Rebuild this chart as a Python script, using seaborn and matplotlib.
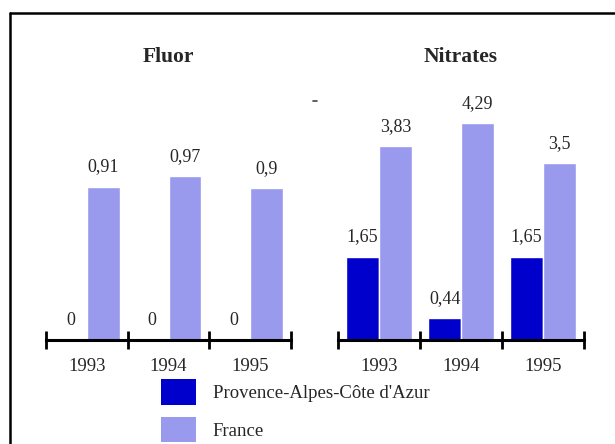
import pandas as pd
import matplotlib
matplotlib.use("Agg")
import matplotlib.pyplot as plt
import seaborn as sns
from matplotlib.patches import Patch
from matplotlib.lines import Line2D

# ---------------- data ----------------
years = ["1993", "1994", "1995"]
series = ["Provence-Alpes-Côte d'Azur", "France"]
fluor_paca = [0, 0, 0]
fluor_france = [0.91, 0.97, 0.9]
nitrates_paca = [1.65, 0.44, 1.65]
nitrates_france = [3.83, 4.29, 3.5]

colors = ["#0000CC", "#9999EE"]

def long_df(paca, france):
    return pd.DataFrame({
        "year": years * 2,
        "zone": [series[0]] * 3 + [series[1]] * 3,
        "value": paca + france,
    })

sns.set_theme(style="white")
plt.rcParams["font.family"] = ["Liberation Serif", "DejaVu Serif"]
plt.rcParams["font.size"] = 13

fig = plt.figure(figsize=(6.15, 4.44), dpi=100)
W, H = 615, 444

def px_axes(left, right, top, bottom):
    return fig.add_axes([left / W, 1 - bottom / H, (right - left) / W, (bottom - top) / H])

panels = [
    ("Fluor", long_df(fluor_paca, fluor_france), px_axes(46, 291, 87, 340), 1.5),
    ("Nitrates", long_df(nitrates_paca, nitrates_france), px_axes(338, 584, 87, 340), 5.0),
]

for title, df, ax, ymax in panels:
    sns.barplot(data=df, x="year", y="value", hue="zone", order=years,
                hue_order=series, palette=colors, width=0.8, saturation=1,
                legend=False, ax=ax)
    for cont in ax.containers:
        labels = [f"{v:g}".replace(".", ",") for v in cont.datavalues]
        ax.bar_label(cont, labels=labels, padding=8, fontsize=13)
    ax.set_ylim(0, ymax)
    ax.set_xlim(-0.5, 2.5)
    for s in ["top", "right", "left"]:
        ax.spines[s].set_visible(False)
    ax.spines["bottom"].set_color("black")
    ax.spines["bottom"].set_linewidth(2.2)
    ax.set_yticks([])
    ax.set_xticks([-0.5, 0.5, 1.5, 2.5])
    ax.set_xticklabels([])
    ax.set_xticks([0, 1, 2], minor=True)
    ax.set_xticklabels(years, minor=True, fontsize=13.5)
    ax.tick_params(axis="x", which="major", direction="inout", length=13,
                   width=2, color="black", bottom=True)
    ax.tick_params(axis="x", which="minor", length=0, pad=13, bottom=True)
    ax.set_xlabel("")
    ax.set_ylabel("")
    ax.set_title(title, fontweight="bold", fontsize=15.5, pad=18)
    ax.patch.set_alpha(0)

handles = [Patch(facecolor=c, edgecolor="none") for c in colors]
fig.legend(handles, series, loc="upper left",
           bbox_to_anchor=(161 / W, 1 - 379 / H), frameon=False,
           handlelength=1.87, handleheight=1.72, handletextpad=0.9,
           labelspacing=0.66, borderpad=0, borderaxespad=0, fontsize=13.5)

# frame (left and top edges) and small stray mark
fig.add_artist(Line2D([10 / W, 10 / W], [0, 1 - 13 / H], color="black", lw=1.8))
fig.add_artist(Line2D([10 / W, 1], [1 - 13 / H, 1 - 13 / H], color="black", lw=1.8))
fig.add_artist(Line2D([313 / W, 317 / W], [1 - 101 / H, 1 - 101 / H], color="#444444", lw=1.2))

fig.savefig("out.png", dpi=100)
